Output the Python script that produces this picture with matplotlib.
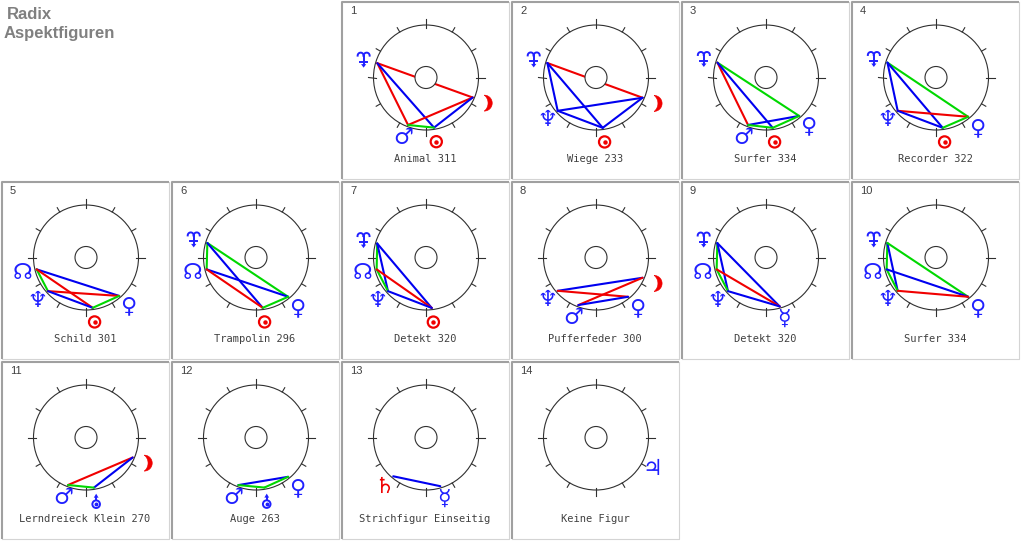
import numpy as np
import matplotlib.pyplot as plt
from matplotlib.patches import Circle, Polygon

W, H = 1024, 541
PW, PH = 170, 180          # size of one cell in pixels
R = 52.5                   # wheel radius
CX, CY = 86, 77.5          # wheel centre inside a cell

titles = ["Animal 311", "Wiege 233", "Surfer 334", "Recorder 322",
          "Schild 301", "Trampolin 296", "Detekt 320", "Pufferfeder 300",
          "Detekt 320", "Surfer 334", "Lerndreieck Klein 270", "Auge 263",
          "Strichfigur Einseitig", "Keine Figur"]

# (column, row) of every figure in the grid
slots = [(2, 0), (3, 0), (4, 0), (5, 0),
         (0, 1), (1, 1), (2, 1), (3, 1), (4, 1), (5, 1),
         (0, 2), (1, 2), (2, 2), (3, 2)]

# planet positions in degrees, 0 = right, counter clockwise
planets = [
    {"ur": 163.6, "moon": 336.8, "mars": 249.3, "sun": 279.1},
    {"ur": 163.4, "moon": 336.5, "nep": 221.0, "sun": 277.6},
    {"ur": 163.0, "ven": 310.8, "mars": 249.3, "sun": 277.6},
    {"ur": 163.0, "nep": 221.0, "ven": 309.3, "sun": 277.6},
    {"node": 193.5, "nep": 221.5, "ven": 310.8, "sun": 277.6},
    {"ur": 163.4, "node": 193.5, "ven": 309.3, "sun": 277.6},
    {"ur": 164.0, "node": 193.5, "nep": 221.5, "sun": 276.5},
    {"nep": 221.0, "moon": 336.5, "mars": 249.6, "ven": 309.3},
    {"ur": 163.5, "node": 193.5, "nep": 221.5, "merc": 285.6},
    {"ur": 163.4, "node": 193.5, "nep": 221.0, "ven": 309.3},
    {"moon": 336.8, "mars": 249.3, "ura": 279.0},
    {"mars": 249.6, "ven": 309.3, "ura": 279.5},
    {"sat": 229.8, "merc": 286.4},
    {"jup": 330.6},
]

# aspect lines: (planet, planet, colour key)
aspects = [
    [("ur", "moon", "r"), ("ur", "mars", "r"), ("ur", "sun", "b"),
     ("mars", "moon", "r"), ("sun", "moon", "b"), ("mars", "sun", "g")],
    [("ur", "moon", "r"), ("ur", "nep", "b"), ("ur", "sun", "b"),
     ("nep", "moon", "b"), ("nep", "sun", "b"), ("sun", "moon", "b")],
    [("ur", "ven", "g"), ("ur", "mars", "r"), ("ur", "sun", "b"),
     ("mars", "ven", "b"), ("mars", "sun", "g"), ("sun", "ven", "g")],
    [("ur", "ven", "g"), ("ur", "nep", "b"), ("ur", "sun", "b"),
     ("nep", "ven", "r"), ("nep", "sun", "b"), ("sun", "ven", "g")],
    [("node", "ven", "b"), ("node", "nep", "g"), ("node", "sun", "r"),
     ("nep", "ven", "r"), ("nep", "sun", "b"), ("sun", "ven", "g")],
    [("ur", "node", "g"), ("ur", "ven", "g"), ("ur", "sun", "b"),
     ("node", "ven", "b"), ("node", "sun", "r"), ("sun", "ven", "g")],
    [("ur", "node", "g"), ("ur", "nep", "b"), ("ur", "sun", "b"),
     ("node", "nep", "g"), ("node", "sun", "r"), ("nep", "sun", "b")],
    [("nep", "moon", "b"), ("nep", "ven", "r"), ("mars", "moon", "r"),
     ("mars", "ven", "b")],
    [("ur", "node", "g"), ("ur", "nep", "b"), ("ur", "merc", "b"),
     ("node", "nep", "g"), ("node", "merc", "r"), ("nep", "merc", "b")],
    [("ur", "node", "g"), ("ur", "nep", "b"), ("ur", "ven", "g"),
     ("node", "nep", "g"), ("node", "ven", "b"), ("nep", "ven", "r")],
    [("mars", "moon", "r"), ("ura", "moon", "b"), ("mars", "ura", "g")],
    [("mars", "ven", "b"), ("mars", "ura", "g"), ("ura", "ven", "g")],
    [("sat", "merc", "b")],
    [],
]

line_colors = {"r": "#f00000", "b": "#0000f0", "g": "#00d800"}
RED, BLUE = "#f00000", "#2020ff"
glyphs = {"mars": ("\u2642", BLUE), "ven": ("\u2640", BLUE),
          "merc": ("\u263f", BLUE), "nep": ("\u2646", BLUE),
          "sat": ("\u2644", RED), "jup": ("\u2643", BLUE),
          "node": ("\u260a", BLUE)}


def pos(x0, y0, ang, r):
    a = np.radians(ang)
    return x0 + CX + r * np.cos(a), y0 + CY - r * np.sin(a)


def draw_ur(ax, x, y, c):
    # Y with curled horns and an arrow below
    t = np.linspace(0, np.pi, 20)
    for s in (-1, 1):
        ax.plot(x + s * 3 + 3 * np.cos(t), y - 3.5 - 3 * np.sin(t), color=c, lw=1.4)
    ax.plot([x, x], [y - 3.5, y + 5.5], color=c, lw=1.4)
    ax.plot([x - 3.5, x + 3.5], [y + 2.5, y + 2.5], color=c, lw=1.4)
    ax.add_patch(Polygon([[x - 2.6, y + 5], [x + 2.6, y + 5], [x, y + 8.5]],
                         closed=True, color=c, lw=0))


def draw_ura(ax, x, y, c):
    # circle with dot and an arrow on top
    ax.add_patch(Circle((x, y + 2.5), 3.8, fill=False, ec=c, lw=1.4))
    ax.plot([x], [y + 2.5], 'o', color=c, ms=1.8)
    ax.plot([x, x], [y - 1.3, y - 5], color=c, lw=1.4)
    ax.add_patch(Polygon([[x - 2.4, y - 4], [x + 2.4, y - 4], [x, y - 8]],
                         closed=True, color=c, lw=0))


def draw_sun(ax, x, y, c):
    ax.add_patch(Circle((x, y), 5.6, fill=False, ec=c, lw=1.6))
    ax.plot([x], [y], 'o', color=c, ms=2.2)


def draw_moon(ax, x, y, c):
    t1 = np.radians(np.linspace(-90, 90, 30))
    t2 = np.radians(np.linspace(51, -51, 30))
    xs = np.concatenate([x - 1.5 + 8 * np.cos(t1), x - 8 + 10.3 * np.cos(t2)])
    ys = np.concatenate([y - 8 * np.sin(t1), y - 10.3 * np.sin(t2)])
    ax.add_patch(Polygon(np.column_stack([xs, ys]), closed=True, color=c, lw=0.4))


fig = plt.figure(figsize=(W / 100, H / 100), dpi=100)
ax = fig.add_axes([0, 0, 1, 1])
ax.set_xlim(0, W)
ax.set_ylim(H, 0)
ax.axis('off')

ax.text(7, 19, "Radix", fontsize=12, fontweight='bold', color='#808080',
        family='Liberation Sans', va='baseline')
ax.text(4, 38, "Aspektfiguren", fontsize=12, fontweight='bold', color='#808080',
        family='Liberation Sans', va='baseline')

for i, (col, row) in enumerate(slots):
    x0, y0 = col * PW, row * PH

    # sunken frame
    ax.plot([x0 + 1.5, x0 + 1.5, x0 + PW - 1], [y0 + PH - 1, y0 + 2, y0 + 2],
            color='#a0a0a0', lw=1.5, solid_capstyle='butt')
    ax.plot([x0 + PW - 1, x0 + PW - 1, x0 + 1.5], [y0 + 2, y0 + PH - 1, y0 + PH - 1],
            color='#d4d4d4', lw=0.8)

    ax.text(x0 + 10, y0 + 14, str(i + 1), fontsize=8, color='#404040',
            family='Liberation Sans', va='baseline')

    # wheel with ticks every 30 degrees
    ax.add_patch(Circle((x0 + CX, y0 + CY), R, fill=False, ec='#303030', lw=0.8))
    for k in range(12):
        ang = 30 * k
        r_in = R - 2.5 if k % 3 == 0 else R
        r_out = R + 6 if k % 3 == 0 else R + 5
        p1, p2 = pos(x0, y0, ang, r_in), pos(x0, y0, ang, r_out)
        ax.plot([p1[0], p2[0]], [p1[1], p2[1]], color='#303030', lw=0.8)

    pl = planets[i]
    for a, b, c in aspects[i]:
        pa, pb = pos(x0, y0, pl[a], R * 0.967), pos(x0, y0, pl[b], R * 0.967)
        ax.plot([pa[0], pb[0]], [pa[1], pb[1]], color=line_colors[c], lw=1.5,
                solid_capstyle='round', zorder=2)

    ax.add_patch(Circle((x0 + CX, y0 + CY), 11, fc='white', ec='#303030', lw=0.8,
                        zorder=3))

    for name, ang in pl.items():
        gx, gy = pos(x0, y0, ang, 65)
        if name == "ur":
            draw_ur(ax, gx, gy, BLUE)
        elif name == "ura":
            draw_ura(ax, gx, gy, BLUE)
        elif name == "sun":
            draw_sun(ax, gx, gy, RED)
        elif name == "moon":
            draw_moon(ax, gx, gy, RED)
        else:
            ch, c = glyphs[name]
            ax.text(gx, gy, ch, fontsize=16, color=c, ha='center', va='center',
                    family='DejaVu Sans')

    ax.text(x0 + 85, y0 + 159, titles[i], fontsize=7.5, color='#404040',
            family='DejaVu Sans Mono', ha='center', va='center')

fig.savefig("out.png", dpi=100, facecolor='white')
